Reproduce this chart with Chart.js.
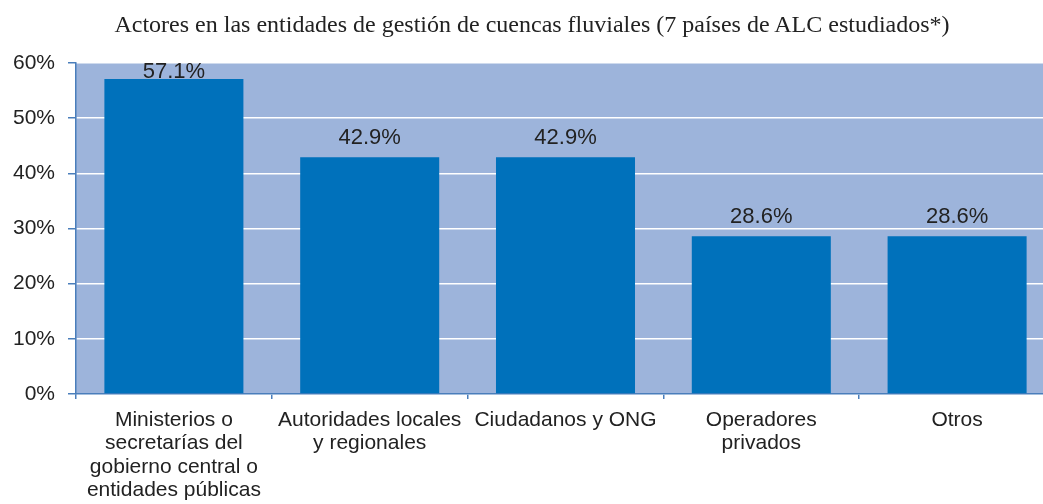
<!DOCTYPE html>
<html>
<head>
<meta charset="utf-8">
<script src="https://cdn.jsdelivr.net/npm/chart.js@4.4.1/dist/chart.umd.min.js"></script>
<style>
  html, body { margin: 0; padding: 0; background: #fff; overflow: hidden; }
  #wrap { position: relative; width: 1075px; height: 504px; }
  #title {
    position: absolute; left: 0; top: 10px; width: 1064px;
    text-align: center; font: 24px "Liberation Serif", "Times New Roman", serif;
    line-height: 28px; color: #222;
  }
</style>
</head>
<body>
<div id="wrap">
  <canvas id="chart"></canvas>
  <div id="title">Actores en las entidades de gestión de cuencas fluviales (7 países de ALC estudiados*)</div>
</div>
<script>
const categories = [
  ['Ministerios o', 'secretarías del', 'gobierno central o', 'entidades públicas'],
  ['Autoridades locales', 'y regionales'],
  ['Ciudadanos y ONG'],
  ['Operadores', 'privados'],
  ['Otros']
];
const values = [57.1, 42.9, 42.9, 28.6, 28.6];
const yTicks = [0, 10, 20, 30, 40, 50, 60];

const axisBlue = '#4a7ebb';

// Fill the plot area with the light blue panel
const panelBackground = {
  id: 'panelBackground',
  beforeDraw(chart) {
    const { ctx, chartArea: a } = chart;
    ctx.save();
    ctx.fillStyle = '#9db4db';
    ctx.fillRect(a.left, a.top, a.right - a.left, a.bottom - a.top);
    ctx.restore();
  }
};

// Value labels above each bar
const valueLabels = {
  id: 'valueLabels',
  afterDatasetsDraw(chart) {
    const { ctx, chartArea: a } = chart;
    const meta = chart.getDatasetMeta(0);
    ctx.save();
    ctx.font = '22px "Liberation Sans", Arial, sans-serif';
    ctx.fillStyle = '#222';
    ctx.textAlign = 'center';
    ctx.textBaseline = 'middle';
    meta.data.forEach((bar, i) => {
      const y = Math.max(bar.y - 19, a.top + 9);
      ctx.fillText(values[i].toFixed(1) + '%', bar.x, y);
    });
    ctx.restore();
  }
};

new Chart(document.getElementById('chart'), {
  type: 'bar',
  data: {
    labels: categories,
    datasets: [{
      data: values,
      backgroundColor: '#0071bb',
      borderWidth: 0,
      barPercentage: 0.71,
      categoryPercentage: 1
    }]
  },
  options: {
    responsive: true,
    maintainAspectRatio: false,
    animation: false,
    layout: { padding: { top: 63, right: 20, left: 0, bottom: 0 } },
    plugins: {
      legend: { display: false },
      tooltip: { enabled: false },
      title: { display: false }
    },
    scales: {
      x: {
        afterFit(scale) { scale.height = 110; },
        grid: {
          offset: true,
          drawOnChartArea: false,
          tickColor: axisBlue,
          tickLength: 5,
          lineWidth: 1.5
        },
        border: { color: axisBlue, width: 1.5 },
        ticks: {
          color: '#222',
          padding: 9,
          maxRotation: 0,
          autoSkip: false,
          font: { family: '"Liberation Sans", Arial, sans-serif', size: 21, lineHeight: 1.12 }
        }
      },
      y: {
        min: 0,
        max: 60,
        afterFit(scale) { scale.width = 76; },
        afterBuildTicks(scale) { scale.ticks = yTicks.map(v => ({ value: v })); },
        grid: {
          color: '#ffffff',
          lineWidth: 1.5,
          tickColor: axisBlue,
          tickLength: 8
        },
        border: { color: axisBlue, width: 1.5 },
        ticks: {
          color: '#222',
          padding: 13,
          font: { family: '"Liberation Sans", Arial, sans-serif', size: 21 },
          callback: v => v + '%'
        }
      }
    }
  },
  plugins: [panelBackground, valueLabels]
});
</script>
</body>
</html>
